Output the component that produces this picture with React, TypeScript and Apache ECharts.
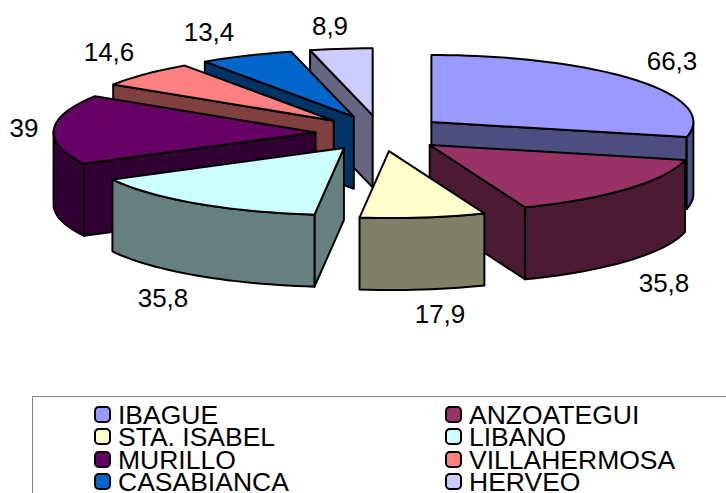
import React, { useEffect, useRef } from "react";
import * as echarts from "echarts";

// Production by municipality, clockwise from twelve o'clock
const categories = ["IBAGUE", "ANZOATEGUI", "STA. ISABEL", "LIBANO", "MURILLO", "VILLAHERMOSA", "CASABIANCA", "HERVEO"];
const values = [66.3, 35.8, 17.9, 35.8, 39, 14.6, 13.4, 8.9];
const valueLabels = ["66,3", "35,8", "17,9", "35,8", "39", "14,6", "13,4", "8,9"];
const topColors = ["#9999FF", "#993366", "#FFFFCC", "#CCFFFF", "#660066", "#FF8080", "#0066CC", "#CCCCFF"];
const wallColors = ["#4D4D80", "#4D1A33", "#808066", "#668080", "#330033", "#804040", "#003366", "#666680"];

// Projected pie geometry, in pixels
const CX = 380.5;
const CY = 133.2;
const RX = 262;
const RY = 67;
const EXPLODE_X = 65;
const EXPLODE_Y = 18;
const DEPTH = 72;
const FONT = "'Liberation Sans', Arial, sans-serif";
const LABEL_CENTERS: [number, number][] = [
  [672, 61], [664, 283], [440, 314], [163, 298], [24, 128], [109, 52], [209, 32], [330, 26],
];
const LEGEND_COLUMNS = [94, 445];
const LEGEND_ROWS = [414, 436, 459, 481];

const total = values.reduce((a, b) => a + b, 0);
const starts = values.map((_, i) => (values.slice(0, i).reduce((a, b) => a + b, 0) / total) * Math.PI * 2);

function renderSlice(index: number) {
  const start = starts[index];
  const end = start + (values[index] / total) * Math.PI * 2;
  const mid = (start + end) / 2;
  const ax = CX + EXPLODE_X * Math.sin(mid);
  const ay = CY - EXPLODE_Y * Math.cos(mid);
  const rim = (t: number): number[] => [ax + RX * Math.sin(t), ay - RY * Math.cos(t)];
  const sample = (from: number, to: number): number[][] => {
    const steps = Math.max(2, Math.ceil(((to - from) * 180) / Math.PI / 2));
    return Array.from({ length: steps + 1 }, (_, k) => rim(from + ((to - from) * k) / steps));
  };
  const face = (points: number[][], fill: string) => ({
    type: "polygon",
    shape: { points },
    silent: true,
    style: { fill, stroke: "#000", lineWidth: 2, lineJoin: "round" },
  });
  const drop = (p: number[]) => [p[0], p[1] + DEPTH];
  const radial = (t: number) => {
    const p = rim(t);
    return face([[ax, ay], p, drop(p), [ax, ay + DEPTH]], wallColors[index]);
  };

  const children: any[] = [];
  if (Math.sin(start) < 0) children.push(radial(start));
  if (Math.sin(end) > 0) children.push(radial(end));
  const from = Math.max(start, Math.PI / 2);
  const to = Math.min(end, (Math.PI * 3) / 2);
  if (to > from) {
    const edge = sample(from, to);
    children.push(face([...edge, ...edge.slice().reverse().map(drop)], wallColors[index]));
  }
  children.push(face([[ax, ay], ...sample(start, end)], topColors[index]));
  children.push({
    type: "text",
    silent: true,
    x: LABEL_CENTERS[index][0],
    y: LABEL_CENTERS[index][1],
    style: {
      text: valueLabels[index],
      fill: "#000",
      font: `26px ${FONT}`,
      align: "center",
      verticalAlign: "middle",
    },
  });
  return { type: "group", children };
}

export default function App() {
  const ref = useRef<HTMLDivElement>(null);

  useEffect(() => {
    document.body.style.margin = "0";
    const chart = echarts.init(ref.current!, null, { renderer: "svg" });

    // Slices further back are painted first so nearer ones overlap them
    const depthRank = values
      .map((v, i) => ({ i, depth: Math.cos(starts[i] + (v / total) * Math.PI) }))
      .sort((a, b) => b.depth - a.depth)
      .map((d) => d.i);

    chart.setOption({
      animation: false,
      backgroundColor: "#fff",
      legend: categories.map((name, i) => ({
        data: [name],
        left: LEGEND_COLUMNS[i % 2],
        top: LEGEND_ROWS[Math.floor(i / 2)] - 13,
        padding: 0,
        itemWidth: 15,
        itemHeight: 15,
        selectedMode: false,
        itemStyle: { borderColor: "#000", borderWidth: 2 },
        textStyle: { fontFamily: FONT, fontSize: 26.5, color: "#000", padding: [0, 0, 0, 3], lineHeight: 22 },
      })),
      graphic: [
        {
          type: "polyline",
          shape: { points: [[32.5, 493], [32.5, 396.5], [726, 396.5]] },
          style: { fill: "none", stroke: "#808080", lineWidth: 1 },
          silent: true,
        },
      ],
      series: categories.map((name, i) => ({
        type: "custom",
        name,
        coordinateSystem: "none",
        z: 2 + depthRank.indexOf(i),
        itemStyle: { color: topColors[i] },
        data: [[values[i]]],
        renderItem: () => renderSlice(i),
      })),
    });

    return () => chart.dispose();
  }, []);

  return <div ref={ref} style={{ position: "fixed", left: 0, top: 0, width: 726, height: 493 }} />;
}
